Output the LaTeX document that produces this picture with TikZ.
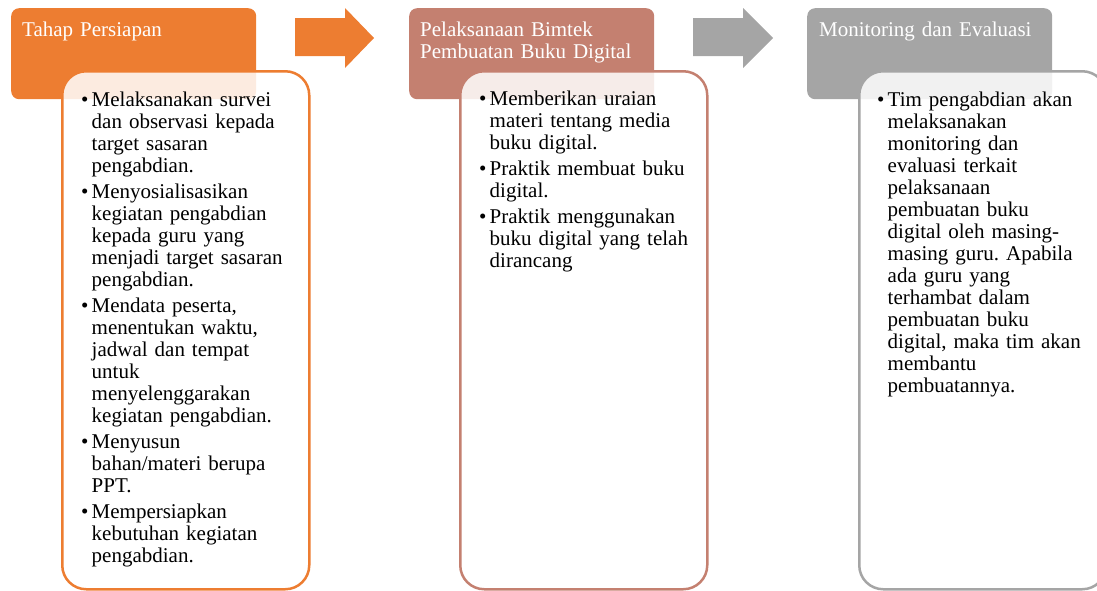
\documentclass[tikz,border=0pt]{standalone}
\usepackage{fontspec}
\setmainfont{Liberation Serif}
\definecolor{cOrange}{RGB}{237,125,49}
\definecolor{cSalmon}{RGB}{196,128,112}
\definecolor{cGray}{RGB}{165,165,165}
\newcommand{\bulfirst}{\leavevmode\hangindent=10.5pt\hangafter=1\hbox to 10.5pt{\textbullet\hfil}\ignorespaces}
\newcommand{\bul}{\par\bulfirst}
\newcommand{\bodysetup}{\raggedright\frenchspacing\hyphenpenalty=10000\exhyphenpenalty=10000\setlength{\parindent}{0pt}\setlength{\parskip}{4pt}\fontsize{21}{22}\selectfont}
\begin{document}
\begin{tikzpicture}[x=1pt,y=-1pt,
  headbox/.style={fill=#1, draw=none, rounded corners=8pt, minimum width=245pt, minimum height=91pt, anchor=north west, inner sep=0pt},
  bodybox/.style={draw=#1, line width=2.5pt, fill=white, fill opacity=0.85, rounded corners=24pt, minimum width=247pt, minimum height=518pt, anchor=north west, inner sep=0pt},
  htext/.style={anchor=base west, inner sep=0pt, text=white, text width=240pt, align=left, font=\fontsize{21}{22}\selectfont},
  btext/.style={anchor=base west, inner sep=0pt, text width=215pt, font=\bodysetup},
  blockarrow/.style={fill=#1, draw=none}
]
\useasboundingbox (0,0) rectangle (1097,590);

% block arrows
\path[blockarrow=cOrange] (295,18) -- (345,18) -- (345,8) -- (374,38) -- (345,68) -- (345,56) -- (295,56) -- cycle;
\path[blockarrow=cGray] (693,18) -- (743,18) -- (743,8) -- (773,38) -- (743,68) -- (743,56) -- (693,56) -- cycle;

% headers
\node[headbox=cOrange] (h1) at (11,8) {};
\node[headbox=cSalmon] (h2) at (409,8) {};
\node[headbox=cGray] (h3) at (807,8) {};

% bodies
\node[bodybox=cOrange] (b1) at (61,70) {};
\node[bodybox=cSalmon] (b2) at (459,70) {};
\node[bodybox=cGray] (b3) at (858,70) {};

% header texts
\node[htext] (t1) at (22,36) {Tahap Persiapan};
\node[htext] (t2) at (420,36) {Pelaksanaan Bimtek\\Pembuatan Buku Digital};
\node[htext] (t3) at (819,36) {Monitoring dan Evaluasi};

% body texts
\node[btext] (l1) at (81,106) {%
\bulfirst Melaksanakan survei\newline dan observasi kepada\newline target sasaran\newline pengabdian.
\bul Menyosialisasikan\newline kegiatan pengabdian\newline kepada guru yang\newline menjadi target sasaran\newline pengabdian.
\bul Mendata peserta,\newline menentukan waktu,\newline jadwal dan tempat\newline untuk\newline menyelenggarakan\newline kegiatan pengabdian.
\bul Menyusun\newline bahan/materi berupa\newline PPT.
\bul Mempersiapkan\newline kebutuhan kegiatan\newline pengabdian.\par};

\node[btext] (l2) at (479,105) {%
\bulfirst Memberikan uraian\newline materi tentang media\newline buku digital.
\bul Praktik membuat buku\newline digital.
\bul Praktik menggunakan\newline buku digital yang telah\newline dirancang\par};

\node[btext] (l3) at (877,106) {%
\bulfirst Tim pengabdian akan\newline melaksanakan\newline monitoring dan\newline evaluasi terkait\newline pelaksanaan\newline pembuatan buku\newline digital oleh masing-\newline masing guru. Apabila\newline ada guru yang\newline terhambat dalam\newline pembuatan buku\newline digital, maka tim akan\newline membantu\newline pembuatannya.\par};
\end{tikzpicture}
\end{document}
